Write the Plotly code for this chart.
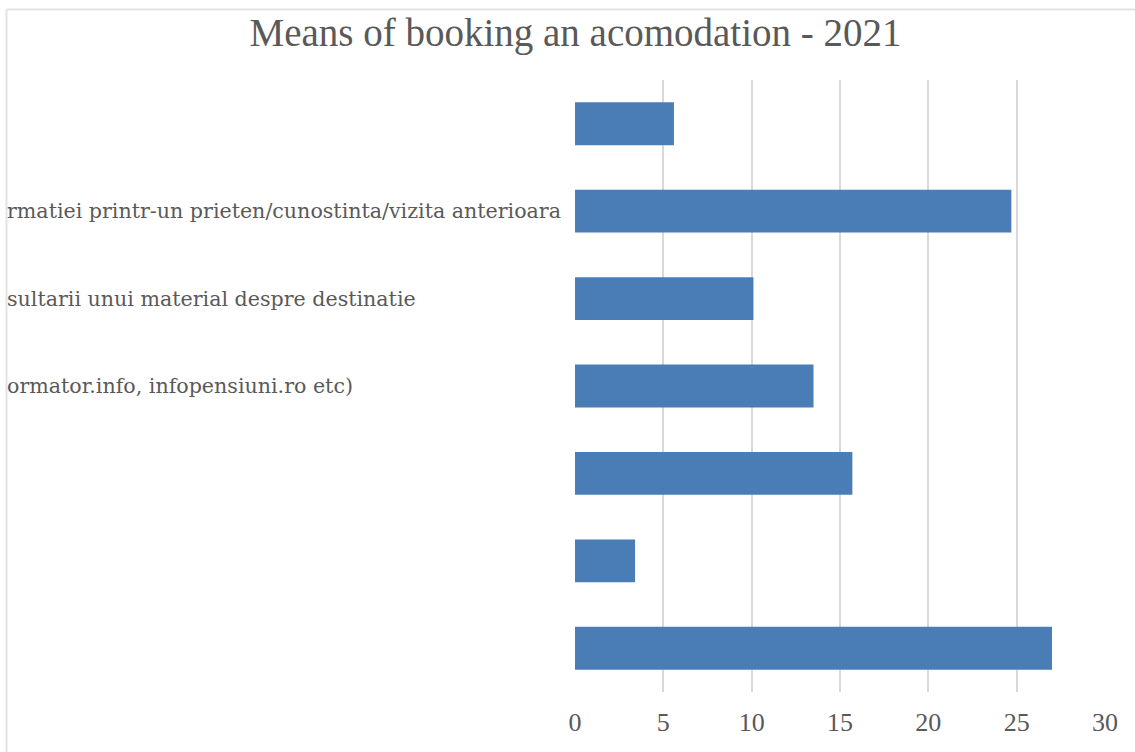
import plotly.graph_objects as go

# Means of booking an accommodation, share of respondents (%)
categories = [
    "Telefonic",
    "In urma obtinerii informatiei printr-un prieten/cunostinta/vizita anterioara",
    "In urma consultarii unui material despre destinatie",
    "Prin intermediul site-urilor specializate (booking.com, turistinformator.info, infopensiuni.ro etc)",
    "E-mail",
    "Agentie de turism",
    "Direct la receptie",
]
# Category labels as they appear at the left edge of the chart frame
shown_labels = [
    "",
    "rmatiei printr-un prieten/cunostinta/vizita anterioara",
    "sultarii unui material despre destinatie",
    "ormator.info, infopensiuni.ro etc)",
    "",
    "",
    "",
]
values = [5.6, 24.7, 10.1, 13.5, 15.7, 3.4, 27.0]
x_ticks = [0, 5, 10, 15, 20, 25, 30]

positions = list(range(len(categories)))

W, H = 1135, 752
L, R, T, B = 575, 30, 80, 60
plot_w = W - L - R
plot_h = H - T - B


def px_to_paper_x(px):
    return (px - L) / plot_w


def px_to_paper_y(py):
    return (H - B - py) / plot_h


fig = go.Figure(
    go.Bar(
        x=values,
        y=positions,
        orientation="h",
        width=0.49,
        marker=dict(color="#4a7db6", line=dict(width=0)),
        hovertext=categories,
        hoverinfo="text+x",
    )
)

fig.update_layout(
    width=W,
    height=H,
    margin=dict(l=L, r=R, t=T, b=B, autoexpand=False),
    paper_bgcolor="white",
    plot_bgcolor="white",
    showlegend=False,
    title=dict(
        text="Means of booking an acomodation - 2021",
        font=dict(family="Liberation Serif", size=39, color="#595959"),
        x=575.5 / W,
        xanchor="center",
        y=1 - 32 / H,
        yanchor="middle",
    ),
    font=dict(family="Liberation Serif", color="#595959"),
)

fig.update_xaxes(
    range=[0, 30],
    tickvals=x_ticks,
    ticktext=[str(v) for v in x_ticks],
    showgrid=True,
    gridcolor="#d9d9d9",
    gridwidth=2,
    zeroline=False,
    showline=False,
    ticks="",
    ticklabelstandoff=12,
    tickfont=dict(family="Liberation Serif", size=26, color="#595959"),
    automargin=False,
    fixedrange=True,
)

fig.update_yaxes(
    tickvals=positions,
    showticklabels=False,
    range=[len(categories) - 0.5, -0.5],
    showgrid=False,
    zeroline=False,
    showline=False,
    ticks="",
    automargin=False,
    fixedrange=True,
)

# Category labels, left-aligned against the chart frame
for pos, label in zip(positions, shown_labels):
    if not label:
        continue
    fig.add_annotation(
        text=label,
        xref="paper", yref="y",
        x=px_to_paper_x(5), y=pos,
        xanchor="left", yanchor="middle",
        showarrow=False,
        font=dict(family="DejaVu Serif", size=20.6, color="#595959"),
    )

# Chart frame: left and top border
frame_x = px_to_paper_x(6.5)
frame_y = px_to_paper_y(9.5)
fig.add_shape(
    type="line", xref="paper", yref="paper",
    x0=frame_x, x1=frame_x, y0=px_to_paper_y(H + 5), y1=frame_y,
    line=dict(color="#e3e3e3", width=2), layer="above",
)
fig.add_shape(
    type="line", xref="paper", yref="paper",
    x0=frame_x, x1=px_to_paper_x(W + 5), y0=frame_y, y1=frame_y,
    line=dict(color="#e3e3e3", width=2), layer="above",
)

fig.write_html("out.html")
